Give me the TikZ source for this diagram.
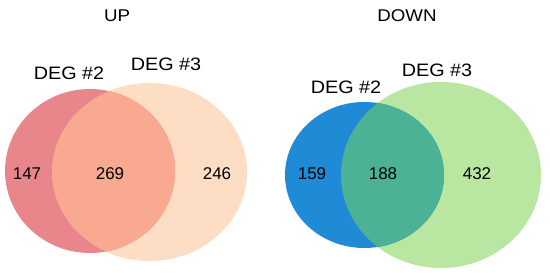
\documentclass[tikz,border=0pt]{standalone}
\usepackage{fontspec}
\setmainfont{Liberation Sans}
\definecolor{upA}{HTML}{E8868C}
\definecolor{upB}{HTML}{FDDEC4}
\definecolor{upAB}{HTML}{F8A98F}
\definecolor{dnA}{HTML}{1F8AD6}
\definecolor{dnB}{HTML}{B9E6A1}
\definecolor{dnAB}{HTML}{4BB295}
\begin{document}
\begin{tikzpicture}[x=1pt,y=-1pt,
  title/.style={font=\fontsize{17}{20}\selectfont, xscale=1.1, inner sep=0pt},
  setlabel/.style={font=\fontsize{18}{21}\selectfont, xscale=1.1, inner sep=0pt},
  count/.style={font=\fontsize{17}{20}\selectfont, inner sep=0pt}]
\useasboundingbox (0,0) rectangle (550,273);
\fill[white] (0,0) rectangle (550,273);
% UP
\fill[upB] (149.5,172) ellipse [x radius=97.5, y radius=89];
\fill[upA] (90,171) ellipse [x radius=85, y radius=82];
\begin{scope}
  \clip (90,171) ellipse [x radius=85, y radius=82];
  \fill[upAB] (149.5,172) ellipse [x radius=97.5, y radius=89];
\end{scope}
% DOWN
\fill[dnB] (441,175) ellipse [x radius=100, y radius=93];
\fill[dnA] (364.5,175) ellipse [x radius=79.5, y radius=73];
\begin{scope}
  \clip (364.5,175) ellipse [x radius=79.5, y radius=73];
  \fill[dnAB] (441,175) ellipse [x radius=100, y radius=93];
\end{scope}
% labels
\node[title] (up) at (117,16) {UP};
\node[setlabel] (u2) at (69,73) {DEG \#2};
\node[setlabel] (u3) at (166,64) {DEG \#3};
\node[count] (u147) at (27,174) {147};
\node[count] (u269) at (110,174) {269};
\node[count] (u246) at (217,174) {246};
\node[title] (down) at (407,16) {DOWN};
\node[setlabel] (d2) at (346,87) {DEG \#2};
\node[setlabel] (d3) at (437,70) {DEG \#3};
\node[count] (d159) at (312,174) {159};
\node[count] (d188) at (383,174) {188};
\node[count] (d432) at (477,174) {432};
\end{tikzpicture}
\end{document}
